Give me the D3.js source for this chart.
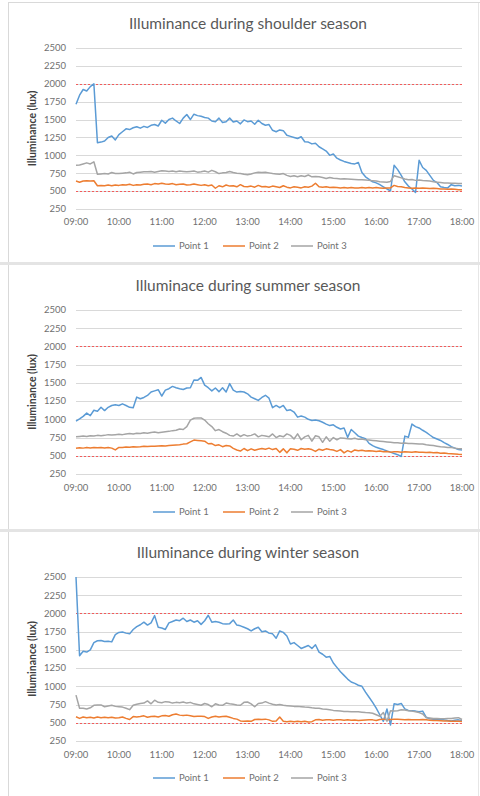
<!DOCTYPE html>
<html>
<head>
<meta charset="utf-8">
<script src="https://cdn.jsdelivr.net/npm/d3@7"></script>
<style>
  html, body { margin: 0; padding: 0; background: #fff; }
  svg { display: block; font-family: Lato, 'Open Sans', sans-serif; }
</style>
</head>
<body>
<script>
(function () {

  'use strict';

  // Data (one reading every 5 minutes, 09:00 to 18:00)
  var stepMinutes = 5;

  var timeLabels = ['09:00', '10:00', '11:00', '12:00', '13:00', '14:00', '15:00', '16:00', '17:00', '18:00'];
  var yTicks = [250, 500, 750, 1000, 1250, 1500, 1750, 2000, 2250, 2500];
  var limits = [500, 2000];
  var seriesNames = ['Point 1', 'Point 2', 'Point 3'];
  var titles = [
    'Illuminance during shoulder season',
    'Illuminace during summer season',
    'Illuminance during winter season'
  ];

  var shoulderP1 = [
    1715, 1840, 1920, 1900, 1960, 2000, 1175, 1185, 1200, 1250, 1270, 1215,
    1290, 1330, 1370, 1360, 1385, 1400, 1380, 1405, 1390, 1420, 1430, 1410,
    1490, 1450, 1500, 1520, 1480, 1445, 1520, 1570, 1500, 1575, 1555, 1545,
    1530, 1520, 1480, 1470, 1520, 1460, 1470, 1520, 1465, 1480, 1440, 1495,
    1470, 1480, 1435, 1490, 1445, 1420, 1430, 1350, 1330, 1355, 1345, 1280,
    1265, 1250, 1235, 1260, 1190, 1185, 1160, 1170, 1120, 1090, 1060, 1000,
    1020, 960, 935, 915, 900, 885, 880, 900, 760, 700, 665, 630,
    615, 590, 560, 530, 505, 860, 800, 720, 630, 570, 530, 480,
    930, 830, 790, 720, 650, 620, 560, 550, 545, 590, 575, 580,
    570
  ];
  var shoulderP2 = [
    640, 625, 640, 645, 640, 645, 575, 580, 575, 585, 575, 585,
    580, 590, 585, 595, 580, 590, 585, 595, 600, 590, 605, 600,
    610, 600, 595, 605, 590, 595, 600, 585, 590, 600, 590, 580,
    590, 575, 585, 540, 575, 560, 585, 570, 575, 560, 590, 565,
    560, 570, 555, 580, 560, 565, 555, 570, 560, 550, 575, 555,
    545, 560, 555, 545, 560, 555, 570, 610, 560, 555, 560, 550,
    555, 550, 545, 550, 545, 550, 545, 545, 550, 545, 550, 545,
    550, 545, 540, 545, 545, 580, 565, 560, 550, 545, 540, 545,
    540, 545, 540, 535, 540, 535, 530, 530, 525, 530, 525, 520,
    520
  ];
  var shoulderP3 = [
    860, 865, 880, 895, 880, 910, 735, 740, 745, 740, 760, 745,
    745, 750, 755, 765, 740, 760, 765, 770, 770, 775, 765, 775,
    785, 780, 775, 780, 770, 780, 775, 770, 775, 780, 765, 770,
    780, 765, 790, 770, 745, 755, 760, 775, 760, 750, 745, 735,
    730, 740, 755, 765, 760, 765, 755, 745, 740, 735, 745, 720,
    705, 715, 700, 715, 705, 725, 700, 705, 700, 690, 675, 690,
    680, 675, 670, 672, 668, 665, 662, 660, 660, 655, 650, 645,
    640, 632, 628, 625, 635, 715, 700, 685, 670, 660, 662, 650,
    655, 648, 645, 640, 630, 625, 620, 615, 615, 610, 610, 605,
    605
  ];

  var summerP1 = [
    975, 1005, 1040, 1085, 1050, 1125, 1110, 1165, 1120, 1165, 1190, 1200,
    1190, 1213, 1190, 1165, 1158, 1305, 1282, 1300, 1328, 1374, 1390, 1406,
    1320, 1400, 1420, 1452, 1434, 1420, 1410, 1430, 1434, 1540, 1535, 1575,
    1470, 1434, 1390, 1430, 1380, 1434, 1374, 1490, 1400, 1374, 1383, 1375,
    1350, 1305, 1282, 1260, 1300, 1330, 1290, 1160, 1190, 1160, 1190, 1120,
    1130, 1100, 1030, 1045, 1030, 1000, 985, 990, 980, 960, 935, 914,
    925, 891, 868, 880, 753, 860, 815, 770, 750, 735, 670, 640,
    616, 600, 585, 565, 550, 530, 515, 490, 770, 755, 935, 900,
    882, 850, 822, 785, 750, 730, 710, 680, 655, 625, 605, 585,
    578
  ];
  var summerP2 = [
    602, 610, 605, 612, 608, 615, 610, 612, 608, 615, 605, 580,
    615, 612, 620, 618, 625, 622, 625, 630, 628, 632, 630, 635,
    638, 635, 640, 645, 648, 650, 660, 665, 690, 715, 710, 705,
    700, 665, 668, 640, 650, 625, 640, 635, 602, 580, 565, 600,
    570, 595, 575, 590, 600, 590, 605, 585, 600, 547, 595, 540,
    595, 590, 575, 600, 590, 595, 585, 560, 590, 575, 595, 585,
    580, 560, 585, 540, 570, 550, 580, 570, 575, 565, 570, 565,
    560, 565, 555, 560, 550, 555, 555, 550, 555, 552, 550, 555,
    548, 550, 545, 548, 540, 545, 535, 538, 530, 528, 525, 520,
    518
  ];
  var summerP3 = [
    760, 765, 770, 765, 775, 770, 780, 775, 780, 790, 785, 790,
    795, 790, 800, 805, 800, 810, 805, 815, 810, 820, 825, 815,
    822, 830, 835, 845, 850, 868, 860, 900, 990, 1015, 1020, 1020,
    990, 940, 900, 845, 860, 830, 810, 780, 770, 800, 765, 790,
    770, 780, 800, 760, 780, 770, 760, 800, 750, 775, 760, 800,
    780, 730, 800, 720, 760, 780, 700, 775, 760, 685, 760, 700,
    750, 720, 745, 740, 735, 730, 740, 725, 730, 720, 715, 710,
    705, 700, 695, 690, 685, 680, 678, 672, 675, 670, 668, 665,
    660, 662, 650, 645, 640, 632, 625, 620, 615, 612, 605, 598,
    595
  ];

  var winterP1 = [
    2500, 1420, 1480, 1470, 1500, 1600, 1625, 1630, 1615, 1620, 1610, 1710,
    1740, 1745, 1730, 1720, 1780, 1820, 1845, 1880, 1840, 1870, 1970, 1810,
    1800, 1780, 1870, 1890, 1910, 1900, 1935, 1890, 1910, 1880, 1900, 1850,
    1900, 1975, 1880, 1890, 1880, 1860, 1855, 1860, 1910, 1840, 1830, 1810,
    1790, 1760, 1790, 1810, 1750, 1760, 1730, 1720, 1660, 1760, 1740, 1690,
    1580, 1600, 1560, 1520, 1540, 1560, 1520, 1570, 1470, 1440, 1400, 1410,
    1320, 1260, 1200, 1150, 1100, 1060, 1040, 1015, 1000, 920, 850, 780,
    700, 610, 520, 690, 470, 760, 750, 765, 690, 670, 665, 660,
    650, 660, 575, 555, 550, 545, 540, 540, 530, 525, 535, 540,
    530
  ];
  var winterP2 = [
    583, 560, 580, 570, 575, 565, 580, 570, 575, 568, 575, 565,
    570, 580, 560, 545, 585, 580, 585, 595, 575, 585, 590, 580,
    595, 600, 590, 610, 620, 605, 600, 605, 595, 585, 590, 590,
    585, 560, 580, 590, 580, 585, 590, 575, 560, 550, 525, 520,
    525, 520, 545, 550, 545, 550, 540, 520, 525, 580, 520, 515,
    520, 515, 520, 515, 520, 512, 515, 540, 545, 535, 540, 540,
    535, 540, 540, 535, 540, 535, 538, 530, 535, 538, 540, 540,
    530, 545, 550, 540, 545, 550, 548, 545, 540, 545, 542, 540,
    540, 545, 540, 535, 530, 530, 528, 525, 525, 520, 520, 520,
    518
  ];
  var winterP3 = [
    880, 700, 700, 690, 705, 740, 745, 745, 720, 730, 740, 725,
    720, 715, 700, 680, 740, 755, 765, 770, 800, 760, 810, 780,
    775, 790, 785, 770, 780, 775, 785, 770, 780, 760, 750, 740,
    765, 750, 720, 760, 745, 740, 770, 760, 755, 745, 740, 780,
    785, 760, 720, 765, 770, 790, 770, 755, 745, 750, 740, 735,
    730, 725, 725, 720, 715, 712, 705, 700, 698, 690, 685, 680,
    670, 665, 660, 655, 655, 652, 650, 650, 645, 640, 638, 630,
    610, 590, 640, 520, 665, 660, 665, 680, 675, 665, 660, 650,
    640, 620, 570, 565, 560, 560, 555, 555, 558, 560, 565, 570,
    545
  ];

  var panelSeries = [
    [shoulderP1, shoulderP2, shoulderP3],
    [summerP1, summerP2, summerP3],
    [winterP1, winterP2, winterP3]
  ];

  // Settings
  var width = 480;
  var height = 796;
  var colors = ['#5b9bd5', '#ed7d31', '#a5a5a5'];
  var plotLeft = 76;
  var plotRight = 462;

  var layouts = [
    { title: 24, top: 48, bottom: 209, xLabel: 222, legend: 246 },
    { title: 286, top: 310, bottom: 474, xLabel: 488, legend: 512 },
    { title: 553, top: 577, bottom: 741, xLabel: 755, legend: 778 }
  ];

  var legendLine = [153, 223, 291];

  var svg = d3.select('body').append('svg')
      .attr('width', width)
      .attr('height', height);

  // Frame and separators
  svg.append('rect')
      .attr('width', width)
      .attr('height', height)
      .attr('fill', '#fff');

  svg.append('line')
      .attr('x1', 8.5).attr('x2', 8.5)
      .attr('y1', 2).attr('y2', height)
      .attr('stroke', '#d9d9d9');

  svg.append('line')
      .attr('x1', 478.5).attr('x2', 478.5)
      .attr('y1', 2).attr('y2', height)
      .attr('stroke', '#e6e6e6');

  svg.append('line')
      .attr('x1', 8).attr('x2', width)
      .attr('y1', 2.5).attr('y2', 2.5)
      .attr('stroke', '#d9d9d9');

  [263.5, 530.5].forEach(function (y) {
    svg.append('rect')
        .attr('x', 0).attr('y', y - 1.5)
        .attr('width', width).attr('height', 3)
        .attr('fill', '#e4e4e4');
  });

  var x = d3.scaleLinear()
      .domain([0, 540])
      .range([plotLeft, plotRight]);

  layouts.forEach(function (l, p) {
    drawPanel(l, titles[p], panelSeries[p]);
  });

  function drawPanel(l, title, series) {

    var g = svg.append('g');

    var y = d3.scaleLinear()
        .domain([250, 2500])
        .range([l.bottom, l.top]);

    g.append('text')
        .attr('x', 248)
        .attr('y', l.title)
        .attr('dy', '0.35em')
        .attr('text-anchor', 'middle')
        .attr('fill', '#595959')
        .attr('font-size', 15.5)
        .text(title);

    // Gridlines
    g.append('g')
      .selectAll('line')
        .data(yTicks)
        .enter()
      .append('line')
        .attr('x1', plotLeft)
        .attr('x2', plotRight)
        .attr('y1', function (d) { return Math.round(y(d)) + 0.5; })
        .attr('y2', function (d) { return Math.round(y(d)) + 0.5; })
        .attr('stroke', '#d9d9d9');

    // Y tick labels
    g.append('g')
      .selectAll('text')
        .data(yTicks)
        .enter()
      .append('text')
        .attr('x', 66)
        .attr('y', function (d) { return y(d); })
        .attr('dy', '0.35em')
        .attr('text-anchor', 'end')
        .attr('fill', '#707070')
        .attr('font-size', 9.5)
        .text(function (d) { return d; });

    // X tick labels
    g.append('g')
      .selectAll('text')
        .data(timeLabels)
        .enter()
      .append('text')
        .attr('x', function (d, i) { return x(i * 60); })
        .attr('y', l.xLabel)
        .attr('dy', '0.35em')
        .attr('text-anchor', 'middle')
        .attr('fill', '#707070')
        .attr('font-size', 9.5)
        .text(function (d) { return d; });

    // Axis title
    g.append('text')
        .attr('transform', 'translate(32,' + ((l.top + l.bottom) / 2) + ') rotate(-90)')
        .attr('dy', '0.35em')
        .attr('text-anchor', 'middle')
        .attr('fill', '#404040')
        .attr('font-size', 10.5)
        .attr('font-weight', 'bold')
        .text('Illuminance (lux)');

    // Limits
    g.append('g')
      .selectAll('line')
        .data(limits)
        .enter()
      .append('line')
        .attr('x1', plotLeft)
        .attr('x2', plotRight)
        .attr('y1', function (d) { return Math.round(y(d)) + 0.5; })
        .attr('y2', function (d) { return Math.round(y(d)) + 0.5; })
        .attr('stroke', '#f25b5b')
        .attr('stroke-dasharray', '2,2');

    var line = d3.line()
        .x(function (d, i) { return x(i * stepMinutes); })
        .y(function (d) { return y(d); });

    g.append('g')
      .selectAll('path')
        .data(series)
        .enter()
      .append('path')
        .attr('d', line)
        .attr('fill', 'none')
        .attr('stroke', function (d, i) { return colors[i]; })
        .attr('stroke-width', 1.5)
        .attr('stroke-linejoin', 'round');

    // Legend
    var item = g.append('g')
      .selectAll('g')
        .data(seriesNames)
        .enter()
      .append('g')
        .attr('transform', function (d, i) {
          return 'translate(' + legendLine[i] + ',' + l.legend + ')';
        });

    item.append('line')
        .attr('x1', 0)
        .attr('x2', 22)
        .attr('stroke', function (d, i) { return colors[i]; })
        .attr('stroke-width', 1.5);

    item.append('text')
        .attr('x', 26)
        .attr('dy', '0.35em')
        .attr('fill', '#707070')
        .attr('font-size', 9.5)
        .text(function (d) { return d; });
  }
})();
</script>
</body>
</html>
